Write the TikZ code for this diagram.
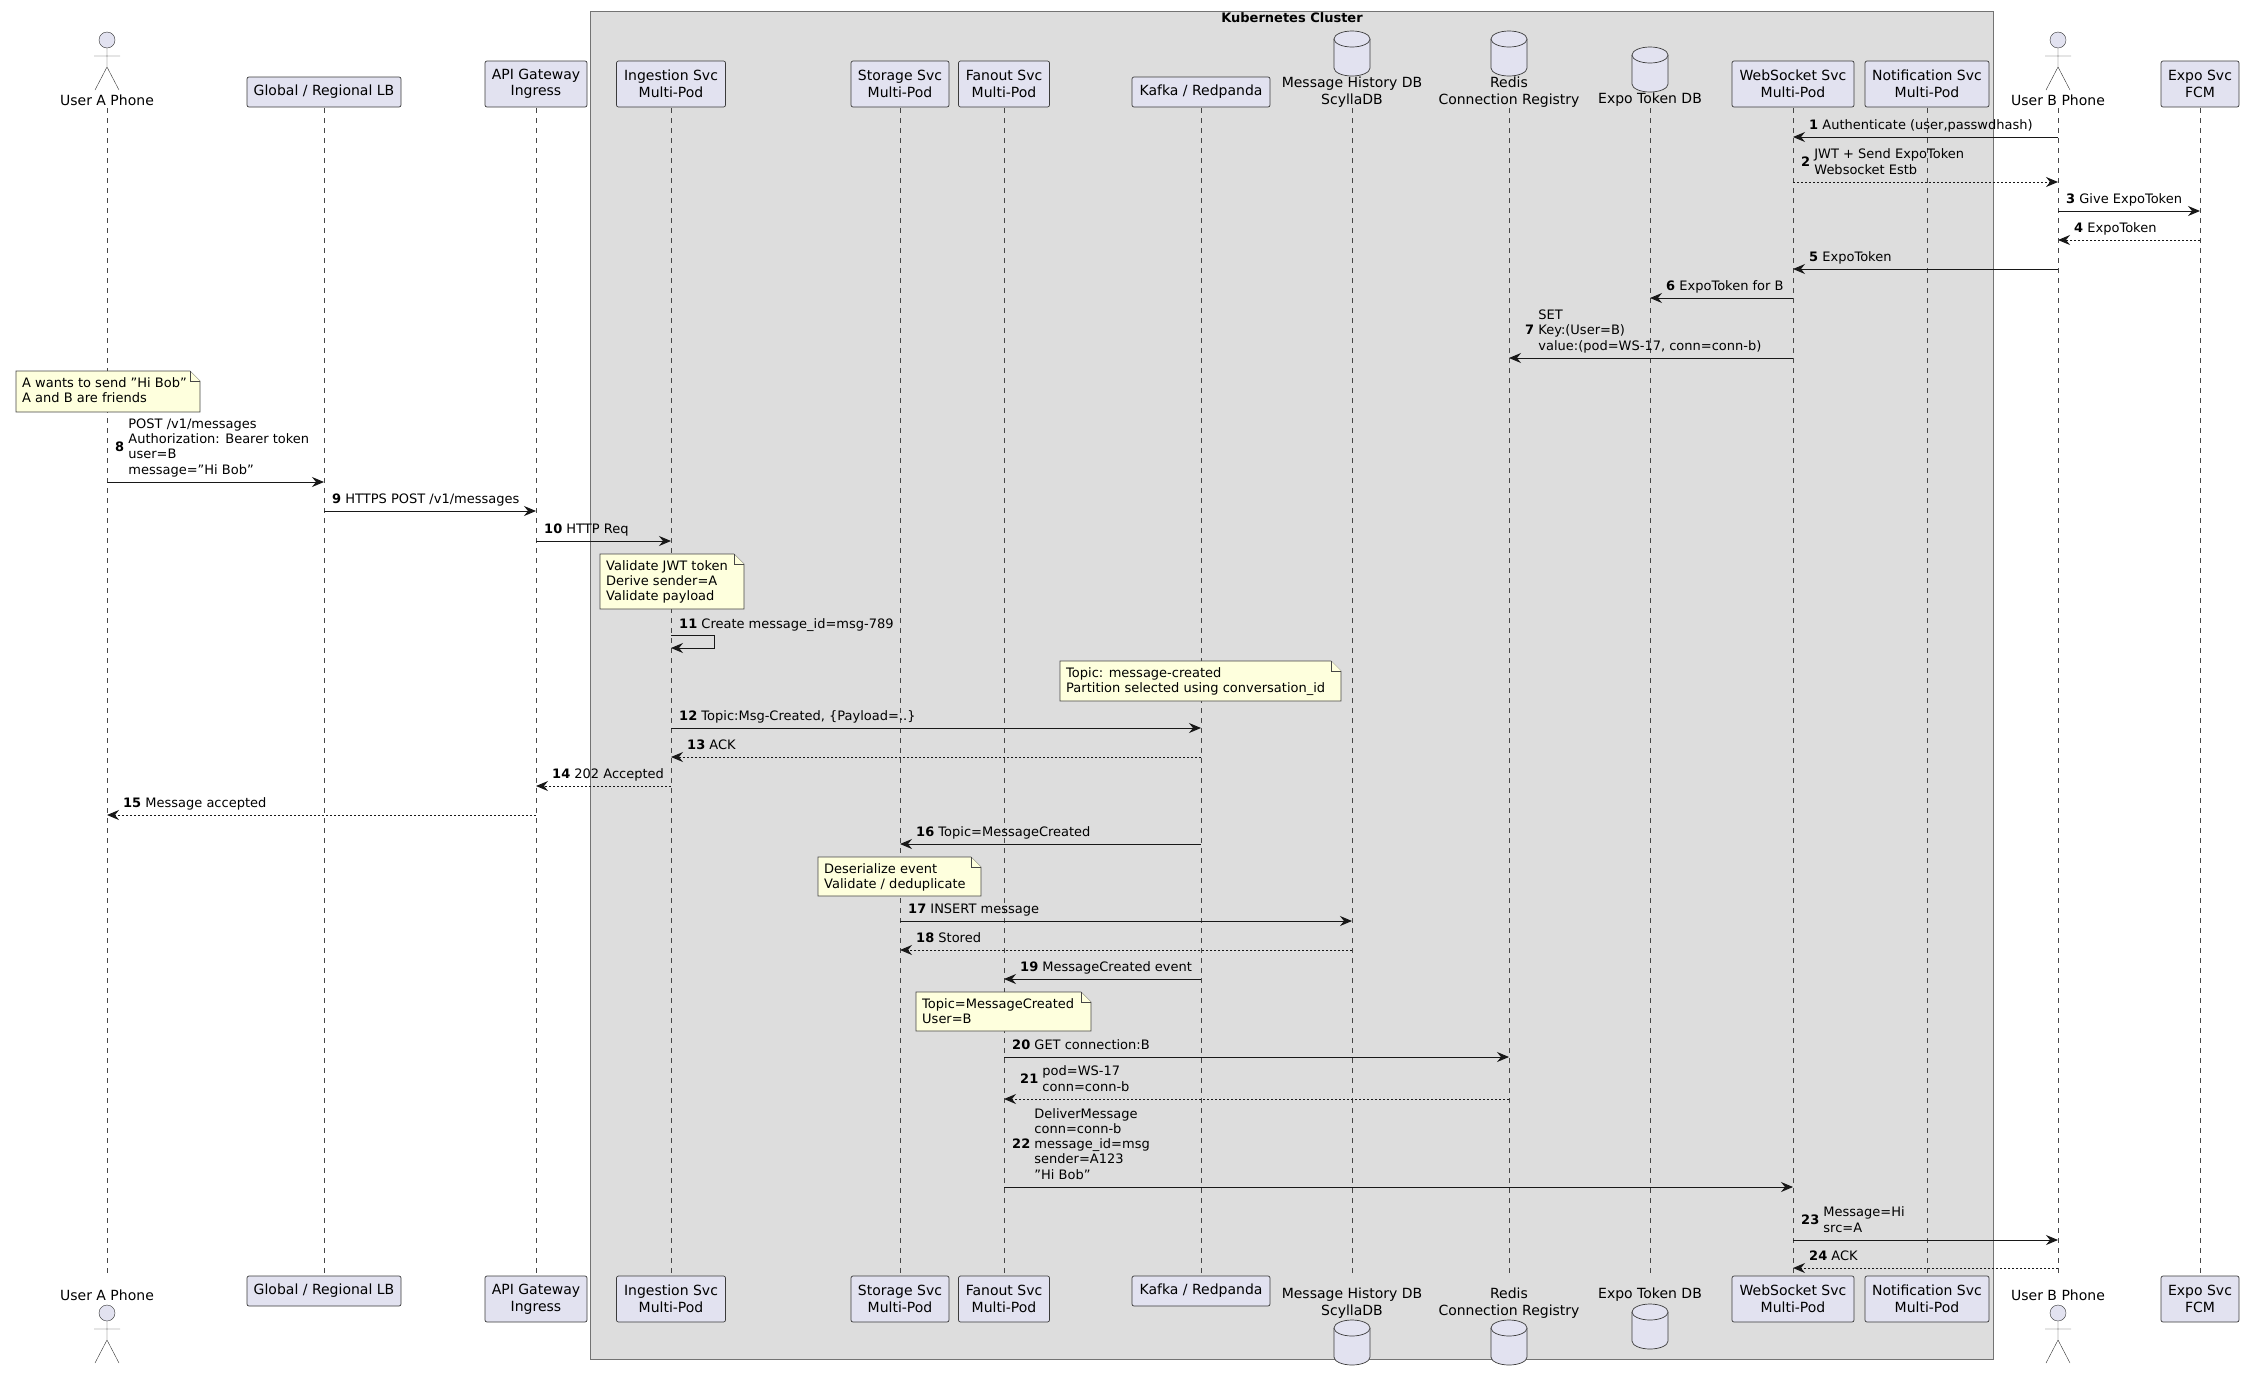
\documentclass[tikz,border=0pt]{standalone}
\usepackage{fontspec}
\setmainfont{DejaVu Sans}[Ligatures=ResetAll]
\usetikzlibrary{arrows.meta}
\definecolor{partfill}{HTML}{E2E2F0}
\definecolor{partline}{HTML}{181818}
\definecolor{clusterfill}{HTML}{DDDDDD}
\definecolor{notefill}{HTML}{FEFFDD}
\tikzset{
  part/.style={draw=partline!85, fill=partfill, line width=0.7pt, rounded corners=2pt, align=center, inner sep=0pt, font=\fontsize{14}{16.5}\selectfont},
  dbase/.style={draw=partline!85, fill=partfill, line width=0.7pt},
  plabel/.style={align=center, inner sep=0pt, font=\fontsize{14}{16.5}\selectfont},
  life/.style={draw=partline!80, dash pattern=on 5pt off 5pt, line width=0.5pt},
  msg/.style={draw=partline, line width=1pt, -{Stealth[length=12pt,width=10pt,inset=4pt]}},
  ret/.style={msg, dash pattern=on 2pt off 2pt},
  lbl/.style={inner sep=0pt, align=left, font=\fontsize{13}{15.3}\selectfont},
  notebox/.style={draw=partline!80, fill=notefill, line width=0.6pt},
}
\newcommand\qq{"}
% messages: rightward / leftward
\newcommand\msgR[6][msg]{\draw[#1] (#2 |- 0,#4) -- (#3 |- 0,#4);
  \path (#2 |- 0,#4) ++(8,-3) node[lbl, anchor=south west] {\textbf{#5}\ \begin{tabular}[c]{@{}l@{}}#6\end{tabular}};}
\newcommand\msgL[6][msg]{\draw[#1] (#2 |- 0,#4) -- (#3 |- 0,#4);
  \path (#3 |- 0,#4) ++(16,-3) node[lbl, anchor=south west] {\textbf{#5}\ \begin{tabular}[c]{@{}l@{}}#6\end{tabular}};}
% notes with folded corner
\newcommand\umlnote[5]{\draw[notebox] (#1,#2) -- (#3-10,#2) -- (#3,#2+10) -- (#3,#4) -- (#1,#4) -- cycle;
  \draw[notebox] (#3-10,#2) -- (#3-10,#2+10) -- (#3,#2+10);
  \node[lbl, anchor=north west] at (#1+6,#2+6) {#5};}
% stick figure, top of head at y
\newcommand\stick[2]{\draw[partline!90, fill=partfill] (#1,#2+8) circle (8);
  \draw[partline!90] (#1,#2+16) -- (#1,#2+35) (#1-13,#2+24) -- (#1+13,#2+24)
    (#1-12,#2+58) -- (#1,#2+35) -- (#1+12,#2+58);}
% database cylinder, top at y
\newcommand\dbcyl[2]{\draw[dbase] (#1-18,#2+8) -- (#1-18,#2+37) arc[start angle=180, end angle=0, x radius=18, y radius=8]
    -- (#1+18,#2+8) arc[start angle=360, end angle=180, x radius=18, y radius=8] -- cycle;
  \draw[dbase] (#1-18,#2+8) arc[start angle=180, end angle=0, x radius=18, y radius=8];}
\begin{document}
\begin{tikzpicture}[x=1pt, y=-1pt]
\useasboundingbox (0,0) rectangle (2249,1385);
% cluster
\draw[draw=black!55, fill=clusterfill, line width=0.8pt] (590,11) rectangle (1993,1359);
\node[font=\fontsize{13}{15}\selectfont\bfseries] (k8s) at (1292,18) {Kubernetes Cluster};
% lifeline positions
\foreach \n/\x in {ua/107, lb/324, api/536, ing/671, sto/900, fan/1004, kaf/1201, mdb/1352, red/1509, edb/1650, ws/1793, nt/1927, ub/2058, exs/2200}{
  \coordinate (\n) at (\x,0);
  \draw[life] (\x,108) -- (\x,1276);
}
% participants, top and bottom
\foreach \n/\x/\w/\t in {lb/324/154/{Global / Regional LB}, kaf/1201/138/{Kafka / Redpanda}}{
  \node[part, minimum width=\w, minimum height=30] (\n T) at (\x,92) {\t};
  \node[part, minimum width=\w, minimum height=30] (\n B) at (\x,1291) {\t};
}
\foreach \n/\x/\w/\t in {api/536/102/{API Gateway\\Ingress}, ing/671/109/{Ingestion Svc\\Multi-Pod}, sto/900/98/{Storage Svc\\Multi-Pod}, fan/1004/91/{Fanout Svc\\Multi-Pod}, ws/1793/122/{WebSocket Svc\\Multi-Pod}, nt/1927/124/{Notification Svc\\Multi-Pod}, exs/2200/78/{Expo Svc\\FCM}}{
  \node[part, minimum width=\w, minimum height=46] (\n T) at (\x,84) {\t};
  \node[part, minimum width=\w, minimum height=46] (\n B) at (\x,1299) {\t};
}
% actors
\foreach \n/\x/\t in {ua/107/User A Phone, ub/2058/User B Phone}{
  \stick{\x}{32}
  \node[plabel] (\n T) at (\x,100) {\t};
  \node[plabel] (\n B) at (\x,1295) {\t};
  \stick{\x}{1305}
}
% databases
\foreach \n/\x/\t in {mdb/1352/{Message History DB\\ScyllaDB}, red/1509/{Redis\\Connection Registry}}{
  \dbcyl{\x}{31}
  \node[plabel] (\n T) at (\x,92) {\t};
  \node[plabel] (\n B) at (\x,1303) {\t};
  \dbcyl{\x}{1320}
}
\dbcyl{1650}{47}
\node[plabel] (edbT) at (1650,100) {Expo Token DB};
\node[plabel] (edbB) at (1650,1295) {Expo Token DB};
\dbcyl{1650}{1304}
% messages
\msgL{ub}{ws}{137}{1}{Authenticate (user,passwdhash)}
\msgR[ret]{ws}{ub}{182}{2}{JWT + Send ExpoToken\\Websocket Estb}
\msgR{ub}{exs}{211}{3}{Give ExpoToken}
\msgL[ret]{exs}{ub}{240}{4}{ExpoToken}
\msgL{ub}{ws}{269}{5}{ExpoToken}
\msgL{ws}{edb}{298}{6}{ExpoToken for B}
\msgL{ws}{red}{358}{7}{SET\\Key:(User=B)\\value:(pod=WS-17, conn=conn-b)}
\umlnote{16}{371}{200}{412}{A wants to send \qq Hi Bob\qq\\A and B are friends}
\msgR{ua}{lb}{482}{8}{POST /v1/messages\\Authorization: Bearer token\\user=B\\message=\qq Hi Bob\qq}
\msgR{lb}{api}{511}{9}{HTTPS POST /v1/messages}
\msgR{api}{ing}{541}{10}{HTTP Req}
\umlnote{600}{554}{744}{609}{Validate JWT token\\Derive sender=A\\Validate payload}
\draw[msg] (ing |- 0,635) -| (714,648) -- (ing |- 0,648);
\path (ing |- 0,635) ++(8,-3) node[lbl, anchor=south west] {\textbf{11}\ Create message\_id=msg-789};
\umlnote{1060}{661}{1341}{701}{Topic: message-created\\Partition selected using conversation\_id}
\msgR{ing}{kaf}{728}{12}{Topic:Msg-Created, \{Payload=..\}}
\msgL[ret]{kaf}{ing}{757}{13}{ACK}
\msgL[ret]{ing}{api}{786}{14}{202 Accepted}
\msgL[ret]{api}{ua}{815}{15}{Message accepted}
\msgL{kaf}{sto}{844}{16}{Topic=MessageCreated}
\umlnote{818}{857}{981}{896}{Deserialize event\\Validate / deduplicate}
\msgR{sto}{mdb}{921}{17}{INSERT message}
\msgL[ret]{mdb}{sto}{950}{18}{Stored}
\msgL{kaf}{fan}{979}{19}{MessageCreated event}
\umlnote{916}{992}{1091}{1031}{Topic=MessageCreated\\User=B}
\msgR{fan}{red}{1057}{20}{GET connection:B}
\msgL[ret]{red}{fan}{1099}{21}{pod=WS-17\\conn=conn-b}
\msgR{fan}{ws}{1187}{22}{DeliverMessage\\conn=conn-b\\message\_id=msg\\sender=A123\\\qq Hi Bob\qq}
\msgR{ws}{ub}{1240}{23}{Message=Hi\\src=A}
\msgL[ret]{ub}{ws}{1268}{24}{ACK}
\end{tikzpicture}
\end{document}
